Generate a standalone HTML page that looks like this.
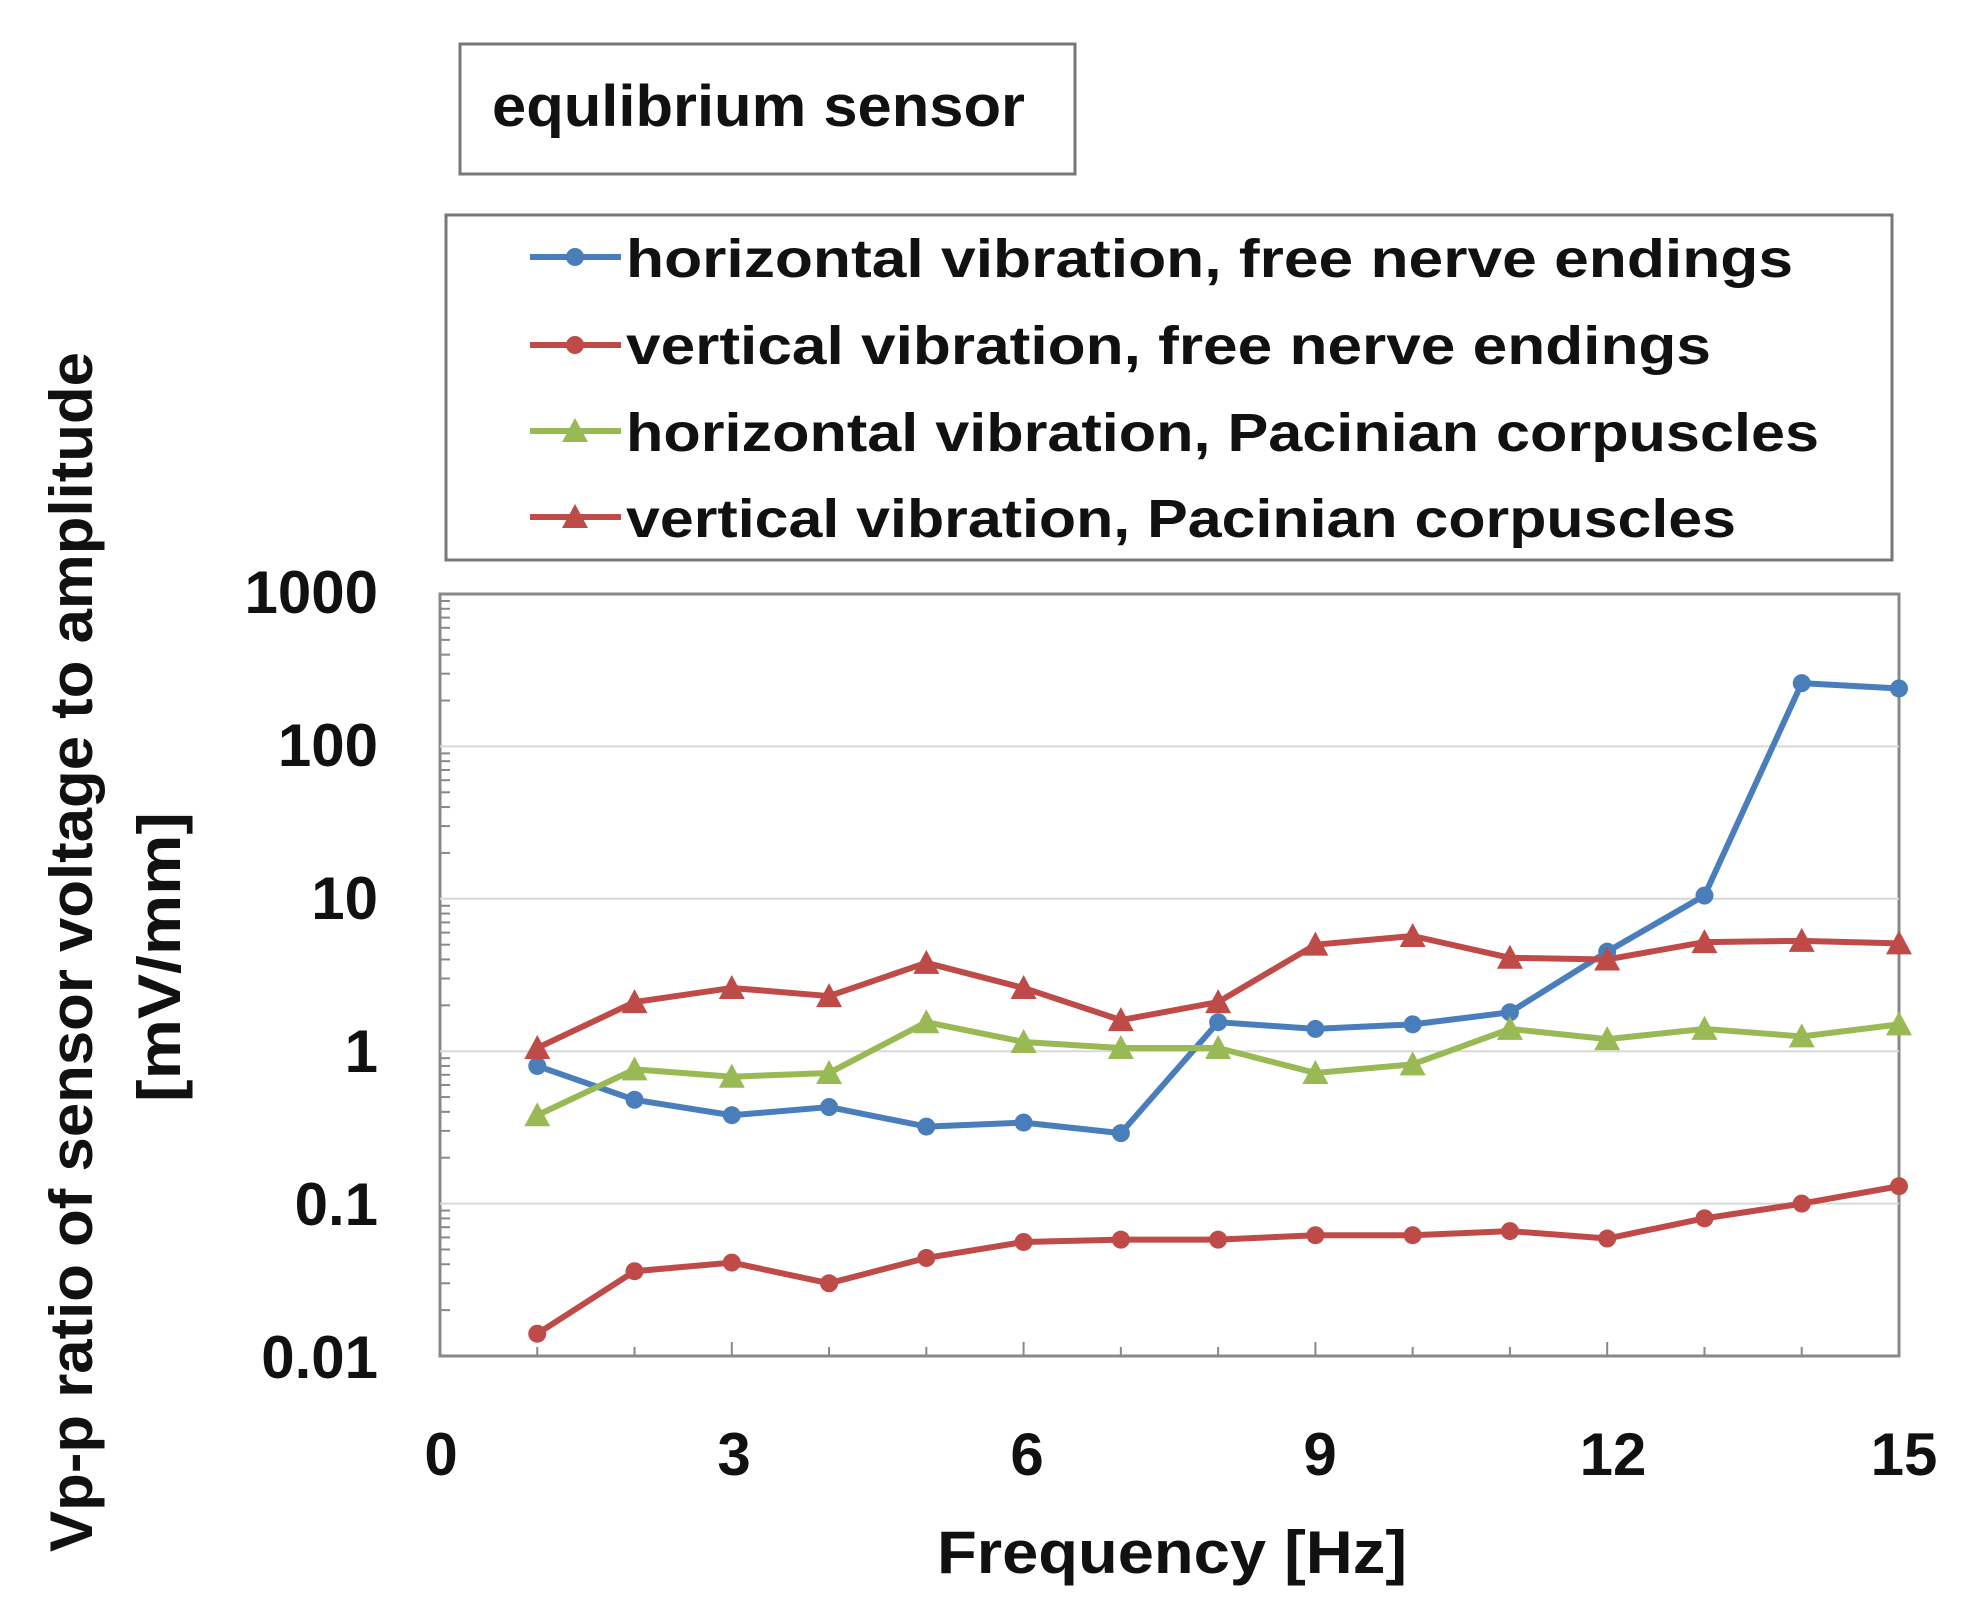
<!DOCTYPE html>
<html><head><meta charset="utf-8"><style>
html,body{margin:0;padding:0;background:#fff;}
svg{display:block;font-family:"Liberation Sans",sans-serif;font-weight:bold;}
</style></head><body>
<svg id="s" width="1977" height="1624" viewBox="0 0 1977 1624" xmlns="http://www.w3.org/2000/svg">
<rect x="460" y="44" width="615" height="130" fill="#fff" stroke="#777" stroke-width="3"/>
<text x="492" y="126" font-size="58" fill="#111" textLength="533" lengthAdjust="spacingAndGlyphs">equlibrium sensor</text>
<rect x="446" y="215" width="1446" height="345" fill="#fff" stroke="#777" stroke-width="3"/>
<g font-size="54" fill="#111">
<text x="626" y="277" textLength="1167" lengthAdjust="spacingAndGlyphs">horizontal vibration, free nerve endings</text>
<text x="626" y="364" textLength="1085" lengthAdjust="spacingAndGlyphs">vertical vibration, free nerve endings</text>
<text x="626" y="451" textLength="1193" lengthAdjust="spacingAndGlyphs">horizontal vibration, Pacinian corpuscles</text>
<text x="626" y="537" textLength="1110" lengthAdjust="spacingAndGlyphs">vertical vibration, Pacinian corpuscles</text>
</g>
<g id="plot"></g>
<g font-size="60" fill="#111" text-anchor="end">
<text x="378" y="613">1000</text>
<text x="378" y="766">100</text>
<text x="378" y="919">10</text>
<text x="378" y="1072">1</text>
<text x="378" y="1225">0.1</text>
<text x="378" y="1378">0.01</text>
</g>
<g font-size="60" fill="#111" text-anchor="middle">
<text x="441" y="1475">0</text>
<text x="734" y="1475">3</text>
<text x="1027" y="1475">6</text>
<text x="1320" y="1475">9</text>
<text x="1613" y="1475">12</text>
<text x="1904" y="1475">15</text>
<text x="1172" y="1573" font-size="60" textLength="470" lengthAdjust="spacingAndGlyphs">Frequency   [Hz]</text>
<text transform="translate(92,952) rotate(-90)" font-size="60" textLength="1200" lengthAdjust="spacingAndGlyphs">Vp-p ratio of sensor voltage to amplitude</text>
<text transform="translate(180,957) rotate(-90)" font-size="60" textLength="290" lengthAdjust="spacingAndGlyphs">[mV/mm]</text>
</g>
</svg>
<script>
(function(){
var ns="http://www.w3.org/2000/svg",g=document.getElementById('plot');
var L=440,R=1899,T=594,B=1356,D=(1356-594)/5;
function X(v){return L+(R-L)*v/15;}
function Y(v){return B-(Math.log10(v)+2)*D;}
function el(n,a){var e=document.createElementNS(ns,n);for(var k in a)e.setAttribute(k,a[k]);g.appendChild(e);return e;}
el('rect',{x:L,y:T,width:R-L,height:B-T,fill:'#fff',stroke:'#888','stroke-width':3});
for(var d=-1;d<=2;d++)el('line',{x1:L,x2:R,y1:Y(Math.pow(10,d)),y2:Y(Math.pow(10,d)),stroke:'#d8d8d8','stroke-width':2});
for(d=-2;d<3;d++)for(var m=2;m<10;m++){var y=Y(m*Math.pow(10,d));el('line',{x1:L,x2:L+10,y1:y,y2:y,stroke:'#888','stroke-width':2});}
for(var i=1;i<15;i++)el('line',{x1:X(i),x2:X(i),y1:B,y2:B-(i%3==0?14:9),stroke:'#888','stroke-width':2});
var S=[
['#4a7ebb','c',[0.8,0.48,0.38,0.43,0.32,0.34,0.29,1.55,1.4,1.5,1.8,4.5,10.5,260,240]],
['#be4b48','c',[0.014,0.036,0.041,0.03,0.044,0.056,0.058,0.058,0.062,0.062,0.066,0.059,0.08,0.1,0.13]],
['#98b954','t',[0.38,0.76,0.68,0.72,1.55,1.15,1.05,1.05,0.72,0.82,1.4,1.2,1.4,1.25,1.5]],
['#be4b48','t',[1.05,2.1,2.6,2.3,3.8,2.6,1.6,2.1,5,5.7,4.1,4,5.2,5.3,5.1]]];
var ly=[257,345,431,517];
S.forEach(function(s,k){
 var p=s[2].map(function(v,j){return X(j+1)+','+Y(v);}).join(' ');
 el('polyline',{points:p,fill:'none',stroke:s[0],'stroke-width':6,'stroke-linejoin':'round'});
 function mk(x,y){if(s[1]=='c')el('circle',{cx:x,cy:y,r:9,fill:s[0]});
  else el('polygon',{points:(x-13)+','+(y+11)+' '+(x+13)+','+(y+11)+' '+x+','+(y-13),fill:s[0]});}
 s[2].forEach(function(v,j){mk(X(j+1),Y(v));});
 el('line',{x1:530,x2:621,y1:ly[k],y2:ly[k],stroke:s[0],'stroke-width':6});
 mk(575,ly[k]);
});
})();
</script>
</body></html>
